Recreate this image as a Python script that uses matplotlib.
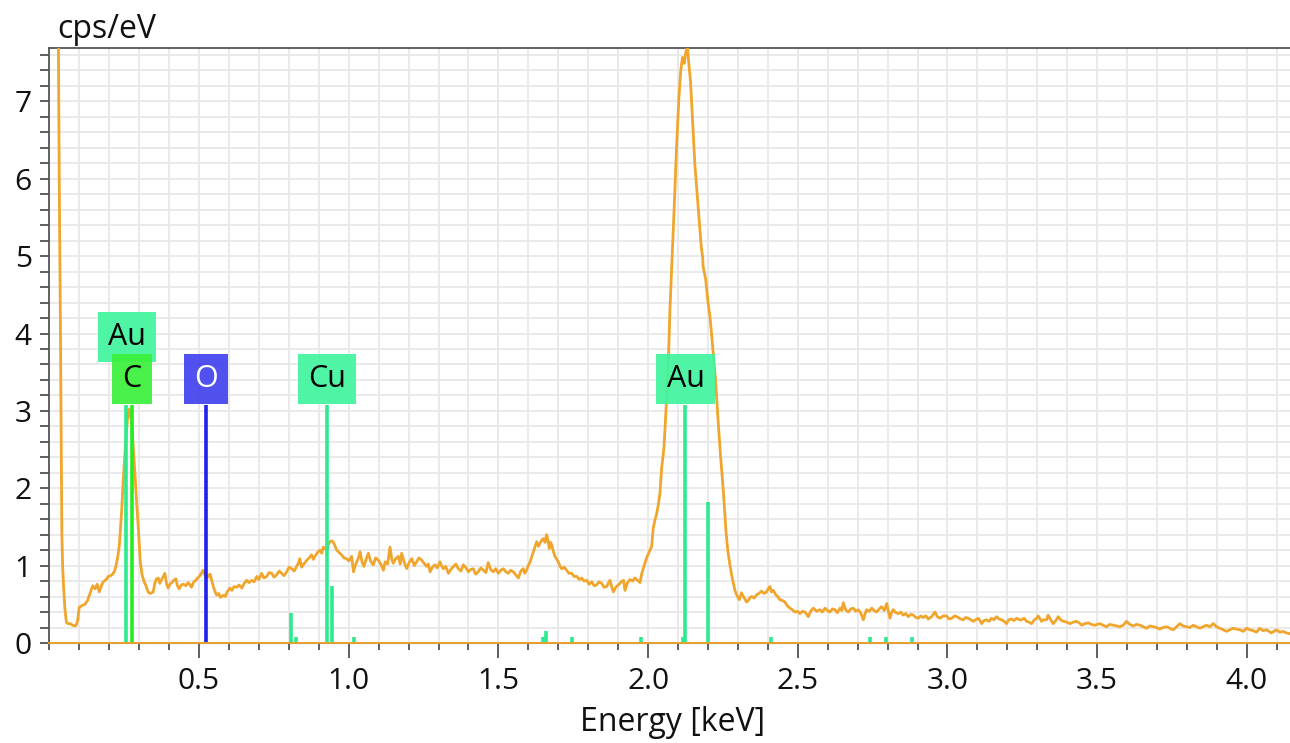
import matplotlib
matplotlib.use("Agg")
import matplotlib.pyplot as plt
from matplotlib.ticker import MultipleLocator, FixedLocator

plt.rcParams['font.family'] = ['Open Sans', 'DejaVu Sans']

# EDX spectrum (keV, cps/eV)
energy = [
    0.029, 0.031, 0.034, 0.037, 0.040, 0.042, 0.045, 0.048, 0.052, 0.057,
    0.062, 0.070, 0.078, 0.085, 0.090, 0.095, 0.100, 0.108, 0.119, 0.128,
    0.136, 0.145, 0.153, 0.160, 0.167, 0.174, 0.180, 0.190, 0.197, 0.205,
    0.212, 0.218, 0.223, 0.229, 0.234, 0.238, 0.242, 0.247, 0.251, 0.256,
    0.261, 0.266, 0.270, 0.275, 0.280, 0.286, 0.292, 0.298, 0.304, 0.310,
    0.316, 0.323, 0.330, 0.338, 0.347, 0.352, 0.356, 0.364, 0.369, 0.375,
    0.381, 0.386, 0.392, 0.397, 0.403, 0.409, 0.416, 0.423, 0.428, 0.434,
    0.441, 0.448, 0.456, 0.464, 0.470, 0.475, 0.481, 0.486, 0.494, 0.501,
    0.508, 0.514, 0.520, 0.526, 0.531, 0.537, 0.543, 0.548, 0.554, 0.559,
    0.566, 0.571, 0.576, 0.583, 0.588, 0.594, 0.603, 0.610, 0.617, 0.626,
    0.634, 0.643, 0.651, 0.659, 0.667, 0.676, 0.684, 0.693, 0.700, 0.709,
    0.717, 0.726, 0.734, 0.743, 0.751, 0.759, 0.768, 0.776, 0.784, 0.793,
    0.801, 0.810, 0.818, 0.826, 0.832, 0.837, 0.843, 0.848, 0.854, 0.860,
    0.868, 0.876, 0.882, 0.887, 0.896, 0.904, 0.910, 0.915, 0.921, 0.926,
    0.932, 0.937, 0.943, 0.949, 0.955, 0.960, 0.968, 0.976, 0.984, 0.993,
    1.001, 1.010, 1.016, 1.021, 1.027, 1.033, 1.038, 1.045, 1.051, 1.058,
    1.066, 1.073, 1.082, 1.090, 1.099, 1.107, 1.116, 1.122, 1.130, 1.138,
    1.144, 1.149, 1.157, 1.166, 1.172, 1.177, 1.185, 1.194, 1.202, 1.211,
    1.219, 1.227, 1.235, 1.244, 1.252, 1.260, 1.266, 1.272, 1.280, 1.288,
    1.296, 1.305, 1.310, 1.316, 1.324, 1.333, 1.341, 1.350, 1.358, 1.366,
    1.375, 1.383, 1.392, 1.400, 1.408, 1.416, 1.424, 1.433, 1.441, 1.450,
    1.458, 1.466, 1.474, 1.483, 1.491, 1.500, 1.508, 1.517, 1.525, 1.533,
    1.541, 1.550, 1.558, 1.567, 1.575, 1.583, 1.588, 1.594, 1.600, 1.606,
    1.612, 1.617, 1.622, 1.628, 1.634, 1.639, 1.645, 1.650, 1.656, 1.661,
    1.666, 1.670, 1.674, 1.678, 1.684, 1.689, 1.695, 1.700, 1.706, 1.711,
    1.720, 1.728, 1.736, 1.745, 1.753, 1.762, 1.770, 1.778, 1.786, 1.795,
    1.803, 1.812, 1.820, 1.828, 1.836, 1.845, 1.853, 1.862, 1.868, 1.873,
    1.879, 1.884, 1.892, 1.901, 1.910, 1.918, 1.923, 1.931, 1.940, 1.948,
    1.956, 1.965, 1.973, 1.979, 1.987, 1.995, 2.004, 2.012, 2.017, 2.023,
    2.028, 2.034, 2.040, 2.045, 2.053, 2.060, 2.068, 2.073, 2.081, 2.088,
    2.095, 2.103, 2.109, 2.115, 2.121, 2.126, 2.132, 2.136, 2.142, 2.148,
    2.156, 2.164, 2.170, 2.178, 2.182, 2.184, 2.192, 2.200, 2.207, 2.216,
    2.225, 2.233, 2.242, 2.252, 2.260, 2.266, 2.273, 2.279, 2.285, 2.290,
    2.296, 2.305, 2.312, 2.318, 2.323, 2.329, 2.335, 2.341, 2.346, 2.354,
    2.362, 2.370, 2.379, 2.387, 2.396, 2.401, 2.407, 2.412, 2.418, 2.427,
    2.433, 2.440, 2.448, 2.457, 2.465, 2.474, 2.482, 2.490, 2.499, 2.507,
    2.516, 2.524, 2.530, 2.535, 2.543, 2.552, 2.563, 2.574, 2.582, 2.591,
    2.599, 2.607, 2.616, 2.624, 2.632, 2.641, 2.647, 2.652, 2.660, 2.669,
    2.677, 2.685, 2.694, 2.702, 2.710, 2.719, 2.725, 2.730, 2.739, 2.747,
    2.755, 2.763, 2.772, 2.780, 2.789, 2.797, 2.803, 2.808, 2.814, 2.819,
    2.828, 2.836, 2.844, 2.852, 2.861, 2.869, 2.878, 2.886, 2.894, 2.902,
    2.911, 2.919, 2.928, 2.936, 2.947, 2.958, 2.966, 2.975, 2.986, 2.997,
    3.005, 3.014, 3.025, 3.036, 3.044, 3.053, 3.061, 3.069, 3.078, 3.086,
    3.094, 3.103, 3.108, 3.114, 3.122, 3.130, 3.139, 3.147, 3.155, 3.164,
    3.172, 3.181, 3.189, 3.197, 3.205, 3.214, 3.222, 3.231, 3.240, 3.248,
    3.256, 3.264, 3.272, 3.281, 3.290, 3.298, 3.303, 3.314, 3.320, 3.331,
    3.336, 3.345, 3.353, 3.362, 3.370, 3.378, 3.387, 3.398, 3.409, 3.420,
    3.431, 3.440, 3.448, 3.459, 3.470, 3.481, 3.492, 3.500, 3.509, 3.520,
    3.531, 3.542, 3.554, 3.565, 3.576, 3.587, 3.598, 3.609, 3.620, 3.631,
    3.643, 3.654, 3.665, 3.676, 3.687, 3.698, 3.709, 3.720, 3.732, 3.743,
    3.754, 3.765, 3.776, 3.787, 3.798, 3.810, 3.821, 3.832, 3.843, 3.854,
    3.865, 3.876, 3.888, 3.899, 3.910, 3.921, 3.932, 3.943, 3.954, 3.965,
    3.977, 3.988, 3.999, 4.010, 4.021, 4.032, 4.043, 4.054, 4.066, 4.074,
    4.082, 4.090, 4.099, 4.110, 4.121, 4.132, 4.144,
]
cps = [
    9.00, 7.40, 5.60, 4.20, 2.60, 1.40, 0.95, 0.72, 0.45, 0.27,
    0.25, 0.25, 0.23, 0.22, 0.23, 0.30, 0.46, 0.48, 0.50, 0.55,
    0.64, 0.74, 0.70, 0.76, 0.66, 0.74, 0.79, 0.82, 0.86, 0.87,
    0.89, 0.93, 1.00, 1.12, 1.26, 1.50, 1.72, 2.10, 2.35, 2.65,
    2.88, 3.02, 2.98, 2.85, 2.55, 2.20, 1.80, 1.45, 1.05, 0.88,
    0.80, 0.74, 0.66, 0.64, 0.66, 0.76, 0.82, 0.84, 0.77, 0.82,
    0.86, 0.90, 0.76, 0.71, 0.76, 0.78, 0.81, 0.83, 0.74, 0.70,
    0.75, 0.76, 0.74, 0.78, 0.75, 0.72, 0.78, 0.80, 0.83, 0.86,
    0.90, 0.94, 0.88, 0.83, 0.87, 0.89, 0.80, 0.73, 0.66, 0.62,
    0.64, 0.59, 0.60, 0.62, 0.60, 0.66, 0.71, 0.68, 0.73, 0.72,
    0.75, 0.71, 0.77, 0.81, 0.78, 0.81, 0.79, 0.86, 0.82, 0.90,
    0.84, 0.86, 0.91, 0.90, 0.85, 0.88, 0.93, 0.90, 0.87, 0.92,
    0.98, 0.96, 0.93, 0.99, 1.03, 1.09, 0.98, 1.01, 1.04, 1.07,
    1.10, 1.14, 1.08, 1.12, 1.17, 1.20, 1.16, 1.24, 1.22, 1.20,
    1.27, 1.31, 1.32, 1.30, 1.25, 1.20, 1.17, 1.14, 1.10, 1.09,
    1.06, 1.12, 0.92, 0.99, 1.05, 1.10, 1.18, 1.04, 0.99, 1.08,
    1.16, 1.06, 1.01, 1.10, 1.07, 1.02, 0.94, 1.05, 1.02, 1.24,
    1.08, 1.03, 1.09, 1.12, 1.02, 1.16, 1.05, 0.96, 1.04, 1.09,
    1.00, 1.05, 1.10, 1.07, 1.03, 0.99, 1.02, 0.92, 0.98, 1.01,
    0.97, 1.05, 1.00, 0.96, 0.99, 0.90, 0.95, 0.99, 1.02, 0.96,
    0.93, 1.01, 0.97, 0.92, 0.95, 0.96, 0.89, 0.92, 0.97, 0.94,
    0.91, 1.04, 0.95, 0.92, 0.96, 0.90, 0.94, 0.96, 0.92, 0.90,
    0.94, 0.92, 0.88, 0.84, 0.93, 0.96, 0.90, 0.94, 1.00, 1.05,
    1.12, 1.18, 1.24, 1.31, 1.25, 1.29, 1.33, 1.35, 1.30, 1.40,
    1.32, 1.22, 1.30, 1.27, 1.18, 1.12, 1.08, 1.05, 0.99, 0.96,
    0.98, 0.94, 0.90, 0.90, 0.86, 0.86, 0.82, 0.84, 0.80, 0.81,
    0.76, 0.79, 0.74, 0.75, 0.79, 0.77, 0.72, 0.73, 0.78, 0.81,
    0.72, 0.66, 0.72, 0.75, 0.79, 0.81, 0.68, 0.78, 0.82, 0.80,
    0.84, 0.81, 0.78, 0.90, 1.00, 1.10, 1.18, 1.25, 1.48, 1.59,
    1.66, 1.78, 1.95, 2.25, 2.52, 3.02, 3.66, 4.31, 5.05, 5.70,
    6.40, 7.05, 7.39, 7.57, 7.49, 7.64, 7.70, 7.49, 7.24, 6.80,
    6.20, 5.80, 5.50, 5.10, 5.00, 4.86, 4.71, 4.41, 4.21, 3.81,
    3.42, 2.92, 2.42, 1.93, 1.45, 1.20, 1.02, 0.88, 0.77, 0.68,
    0.62, 0.56, 0.65, 0.60, 0.57, 0.53, 0.55, 0.59, 0.60, 0.58,
    0.62, 0.64, 0.67, 0.64, 0.66, 0.70, 0.73, 0.66, 0.68, 0.62,
    0.60, 0.56, 0.55, 0.53, 0.48, 0.45, 0.43, 0.40, 0.41, 0.38,
    0.41, 0.40, 0.37, 0.34, 0.41, 0.45, 0.41, 0.43, 0.40, 0.45,
    0.42, 0.40, 0.44, 0.43, 0.39, 0.45, 0.42, 0.52, 0.43, 0.40,
    0.44, 0.45, 0.41, 0.43, 0.39, 0.30, 0.38, 0.43, 0.41, 0.45,
    0.42, 0.40, 0.44, 0.47, 0.42, 0.51, 0.40, 0.32, 0.40, 0.43,
    0.39, 0.38, 0.40, 0.36, 0.38, 0.34, 0.37, 0.36, 0.33, 0.32,
    0.35, 0.33, 0.35, 0.31, 0.34, 0.40, 0.34, 0.32, 0.35, 0.35,
    0.31, 0.32, 0.35, 0.33, 0.31, 0.30, 0.33, 0.32, 0.30, 0.28,
    0.30, 0.32, 0.29, 0.25, 0.29, 0.30, 0.28, 0.32, 0.30, 0.34,
    0.31, 0.30, 0.28, 0.25, 0.30, 0.31, 0.29, 0.32, 0.30, 0.30,
    0.32, 0.28, 0.27, 0.25, 0.30, 0.32, 0.35, 0.28, 0.30, 0.30,
    0.36, 0.30, 0.25, 0.29, 0.34, 0.30, 0.28, 0.27, 0.25, 0.27,
    0.28, 0.26, 0.23, 0.25, 0.26, 0.24, 0.23, 0.24, 0.25, 0.23,
    0.21, 0.24, 0.23, 0.22, 0.21, 0.23, 0.28, 0.24, 0.22, 0.24,
    0.23, 0.21, 0.19, 0.22, 0.21, 0.20, 0.18, 0.20, 0.21, 0.19,
    0.17, 0.21, 0.25, 0.22, 0.21, 0.20, 0.23, 0.21, 0.19, 0.21,
    0.23, 0.21, 0.25, 0.21, 0.19, 0.17, 0.15, 0.17, 0.19, 0.18,
    0.17, 0.15, 0.19, 0.17, 0.16, 0.14, 0.19, 0.16, 0.17, 0.15,
    0.13, 0.15, 0.17, 0.14, 0.15, 0.13, 0.12,
]

# element marker lines
line_kev = [0.256, 0.275, 0.524, 0.807, 0.825, 0.927, 0.945, 1.018, 1.650, 1.658,
            1.745, 1.978, 2.117, 2.123, 2.201, 2.409, 2.741, 2.795, 2.882]
line_height = [3.07, 3.07, 3.07, 0.39, 0.08, 3.07, 0.74, 0.08, 0.08, 0.15,
               0.08, 0.08, 0.08, 3.07, 1.82, 0.08, 0.08, 0.08, 0.08]
line_elem = ['Au', 'C', 'O', 'Cu', 'Cu', 'Cu', 'Cu', 'Cu', 'Au', 'Au',
             'Au', 'Au', 'Au', 'Au', 'Au', 'Au', 'Au', 'Au', 'Au']

# labels shown in boxes
label_text = ['Au', 'C', 'O', 'Cu', 'Au']
label_kev = [0.258, 0.276, 0.523, 0.929, 2.125]
label_y = [3.96, 3.41, 3.41, 3.41, 3.41]

line_colors = {'Au': '#2eea8e', 'Cu': '#2eea8e', 'C': '#22ee22', 'O': '#2020ee'}
box_colors = {'Au': '#40f59e', 'Cu': '#40f59e', 'C': '#3cf03c', 'O': '#4242ee'}
text_colors = {'Au': 'black', 'Cu': 'black', 'C': 'black', 'O': 'white'}

fig = plt.figure(figsize=(12.9, 7.43), dpi=100)
ax = fig.add_axes([0.0382, 0.1346, 0.9618, 0.8008])

ax.plot(energy, cps, color='#f0a52c', lw=2.0, zorder=3)

for e, h, el in zip(line_kev, line_height, line_elem):
    ax.vlines(e, 0, h, color=line_colors[el], lw=2.6, zorder=4)

for t, e, y in zip(label_text, label_kev, label_y):
    ax.text(e, y, t, ha='center', va='center', fontsize=22, color=text_colors[t],
            zorder=6,
            bbox=dict(boxstyle='square,pad=0.33', fc=box_colors[t], ec='none', alpha=0.92))

ax.axhline(0, color='#e8a030', lw=1.4, zorder=5, clip_on=False)

ax.set_xlim(0, 4.144)
ax.set_ylim(0, 7.69)

ax.xaxis.set_major_locator(FixedLocator([0.5, 1.0, 1.5, 2.0, 2.5, 3.0, 3.5, 4.0]))
ax.xaxis.set_minor_locator(MultipleLocator(0.1))
ax.set_xticklabels(['0.5', '1.0', '1.5', '2.0', '2.5', '3.0', '3.5', '4.0'])
ax.yaxis.set_major_locator(MultipleLocator(1))
ax.yaxis.set_minor_locator(MultipleLocator(0.2))

ax.grid(True, which='both', color='#e8e8e8', lw=1.3, zorder=0)
ax.set_axisbelow(True)

ax.tick_params(axis='x', which='major', length=11, width=1.2, color='#444444',
               labelsize=21.5, pad=6, labelcolor='#111111')
ax.tick_params(axis='x', which='minor', length=5, width=1.2, color='#444444')
ax.tick_params(axis='y', which='both', length=6.5, width=1.2, color='#444444',
               labelsize=21.5, pad=6, labelcolor='#111111')

for side in ['left', 'top']:
    ax.spines[side].set_color('#555555')
    ax.spines[side].set_linewidth(1.3)
ax.spines['right'].set_visible(False)
ax.spines['bottom'].set_color('#555555')

fig.text(0.044, 0.9489, 'cps/eV', fontsize=23, color='#111111', va='baseline', ha='left')
fig.text(0.521, 0.016, 'Energy [keV]', fontsize=23, color='#111111', va='baseline', ha='center')

fig.savefig('out.png', dpi=100)
